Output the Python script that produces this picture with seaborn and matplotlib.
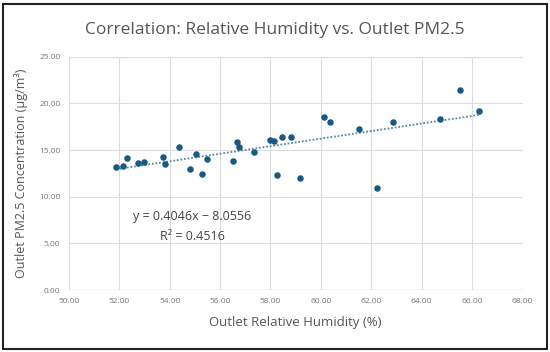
import matplotlib
matplotlib.use("Agg")
import matplotlib.pyplot as plt
import seaborn as sns
import numpy as np
import pandas as pd
from matplotlib.patches import Rectangle

# values
humidity = [51.88, 52.17, 52.31, 52.75, 53.00, 53.74, 53.83, 54.38, 54.81, 55.06,
            55.27, 55.50, 56.53, 56.69, 56.77, 57.34, 58.00, 58.15, 58.25, 58.46,
            58.83, 59.19, 60.13, 60.36, 61.51, 62.21, 62.85, 64.72, 65.53, 66.27]
pm25 = [13.15, 13.25, 14.15, 13.64, 13.68, 14.29, 13.47, 15.33, 12.97, 14.61,
        12.43, 14.04, 13.79, 15.90, 15.29, 14.79, 16.08, 15.97, 12.29, 16.37,
        16.37, 12.04, 18.50, 18.00, 17.29, 10.96, 18.00, 18.29, 21.43, 19.15]
slope = 0.4046
intercept = -8.0556
r_squared = 0.4516

x_ticks = np.arange(50, 68.01, 2)
y_ticks = np.arange(0, 25.01, 5)

df = pd.DataFrame({"humidity": humidity, "pm25": pm25})

sns.set_style("whitegrid")
plt.rcParams["font.family"] = ["Open Sans", "DejaVu Sans"]

fig = plt.figure(figsize=(5.5, 3.52), dpi=100)
ax = fig.add_axes([0.125, 0.176, 0.825, 0.663])

dot_color = "#1a5a80"
sns.scatterplot(data=df, x="humidity", y="pm25", ax=ax, color=dot_color,
                s=22, edgecolor=dot_color, linewidth=0, zorder=3)

# linear trendline over data range
tx = np.array([min(humidity), max(humidity)])
ax.plot(tx, slope * tx + intercept, linestyle=(0, (1, 1)), color="#4f8aa0",
        linewidth=1.3, zorder=2)

ax.set_xlim(50, 68)
ax.set_ylim(0, 25)
ax.set_xticks(x_ticks)
ax.set_yticks(y_ticks)
ax.set_xticklabels([f"{v:.2f}" for v in x_ticks])
ax.set_yticklabels([f"{v:.2f}" for v in y_ticks])
ax.tick_params(axis="both", labelsize=6, colors="#777777", length=0, pad=6)
ax.grid(color="#dcdcdc", linewidth=0.8)
for s in ax.spines.values():
    s.set_visible(False)
ax.axhline(0, color="#cccccc", linewidth=1, zorder=1)

ax.set_xlabel("Outlet Relative Humidity (%)", fontsize=9.5, color="#555555", labelpad=8)
ax.set_ylabel("Outlet PM2.5 Concentration (µg/m³)", fontsize=9, color="#555555", labelpad=8)

ax.text(54.9, 7.9, f"y = {slope}x \u2212 {abs(intercept)}", fontsize=9,
        color="#444444", ha="center", va="center")
ax.text(54.9, 5.7, f"R² = {r_squared}", fontsize=9,
        color="#444444", ha="center", va="center")

fig.text(0.5, 0.915, "Correlation: Relative Humidity vs. Outlet PM2.5",
         fontsize=12.5, color="#555555", ha="center", va="center")

# outer frame
fig.patches.append(Rectangle((0.006, 0.008), 0.988, 0.982, transform=fig.transFigure,
                             fill=False, edgecolor="#222222", linewidth=1.5))

fig.savefig("out.png", dpi=100)
